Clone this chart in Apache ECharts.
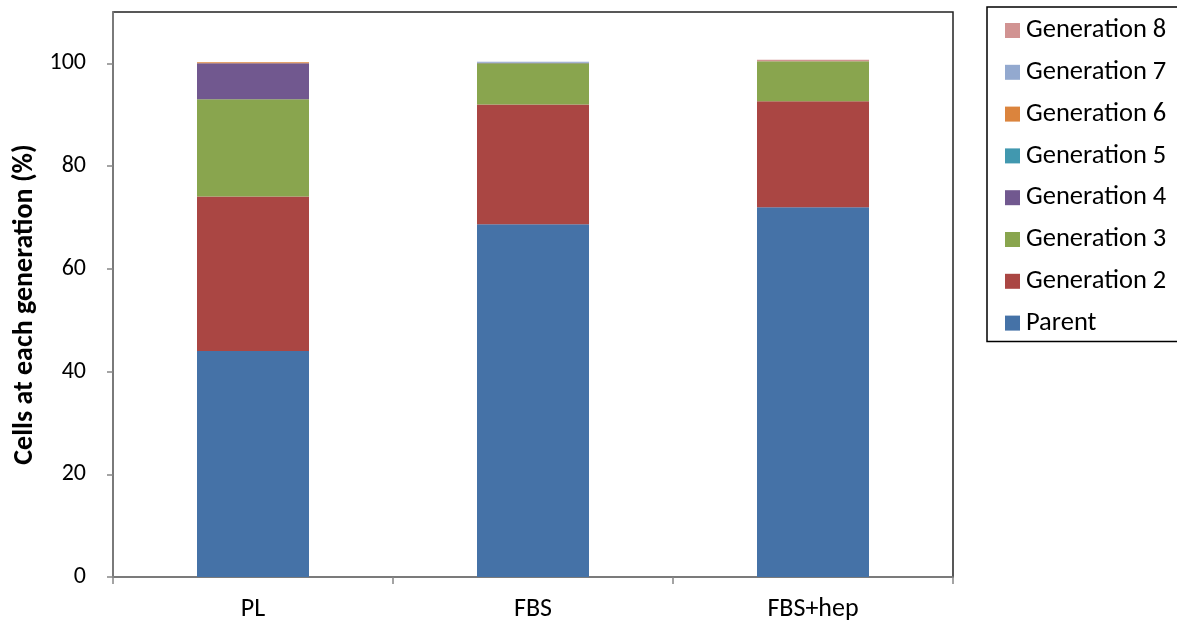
<!DOCTYPE html>
<html>
<head>
<meta charset="utf-8">
<script src="https://cdn.jsdelivr.net/npm/echarts@6/dist/echarts.min.js"></script>
<style>
  html, body { margin: 0; padding: 0; background: #fff; }
  #chart { width: 1177px; height: 623px; }
</style>
</head>
<body>
<div id="chart"></div>
<script>
// Culture conditions on the x axis
const categories = ['PL', 'FBS', 'FBS+hep'];

// Percentage of cells found at each generation, per condition
const parent = [44.0, 68.7, 72.0];
const generation2 = [30.1, 23.3, 20.6];
const generation3 = [18.9, 8.0, 7.8];
const generation4 = [7.0, 0.1, 0.0];
const generation5 = [0.0, 0.0, 0.0];
const generation6 = [0.2, 0.0, 0.0];
const generation7 = [0.0, 0.2, 0.0];
const generation8 = [0.0, 0.0, 0.3];

const seriesNames = ['Parent', 'Generation 2', 'Generation 3', 'Generation 4',
  'Generation 5', 'Generation 6', 'Generation 7', 'Generation 8'];
const seriesValues = [parent, generation2, generation3, generation4,
  generation5, generation6, generation7, generation8];
const seriesColors = ['#4572A7', '#AA4643', '#89A54E', '#71588F',
  '#4198AF', '#DB843D', '#93A9CF', '#D19392'];

const yTicks = { min: 0, max: 110, interval: 20 };

const font = 'Carlito, Open Sans, Noto Sans, sans-serif';

const chart = echarts.init(document.getElementById('chart'), null, { renderer: 'canvas' });

chart.setOption({
  animation: false,
  backgroundColor: '#fff',
  grid: {
    left: 113, right: 224, top: 12, bottom: 46,
    outerBoundsMode: 'none',
    containLabel: false,
    show: true, borderColor: '#222', borderWidth: 1.5, backgroundColor: 'transparent'
  },
  legend: {
    orient: 'vertical',
    left: 987, top: 7,
    data: seriesNames.slice().reverse(),
    icon: 'rect',
    itemWidth: 15, itemHeight: 15,
    itemGap: 14.8,
    padding: [10, 20, 5, 18],
    borderColor: '#000', borderWidth: 1.5,
    textStyle: { fontFamily: font, fontSize: 26.5, lineHeight: 26, color: '#000', padding: [0, 0, 0, 1] }
  },
  xAxis: {
    type: 'category',
    data: categories,
    axisLine: { lineStyle: { color: '#868686', width: 1.5 } },
    axisTick: { show: true, length: 7, lineStyle: { color: '#868686', width: 1.5 } },
    axisLabel: { fontFamily: font, fontSize: 26, color: '#000', margin: 19 }
  },
  yAxis: {
    type: 'value',
    min: yTicks.min, max: yTicks.max, interval: yTicks.interval,
    name: 'Cells at each generation (%)',
    nameLocation: 'middle',
    nameGap: 73,
    nameTextStyle: { fontFamily: font, fontSize: 28, fontWeight: 'bold', color: '#000', padding: [0, 20, 0, 0] },
    axisLine: { show: true, lineStyle: { color: '#868686', width: 1.5 } },
    axisTick: { show: true, length: 6, lineStyle: { color: '#868686', width: 1.5 } },
    axisLabel: { fontFamily: font, fontSize: 24, color: '#000', margin: 27, showMaxLabel: false },
    splitLine: { show: false }
  },
  series: seriesNames.map((name, i) => ({
    name,
    type: 'bar',
    stack: 'total',
    barWidth: '40%',
    data: seriesValues[i],
    itemStyle: { color: seriesColors[i] }
  }))
});
</script>
</body>
</html>
